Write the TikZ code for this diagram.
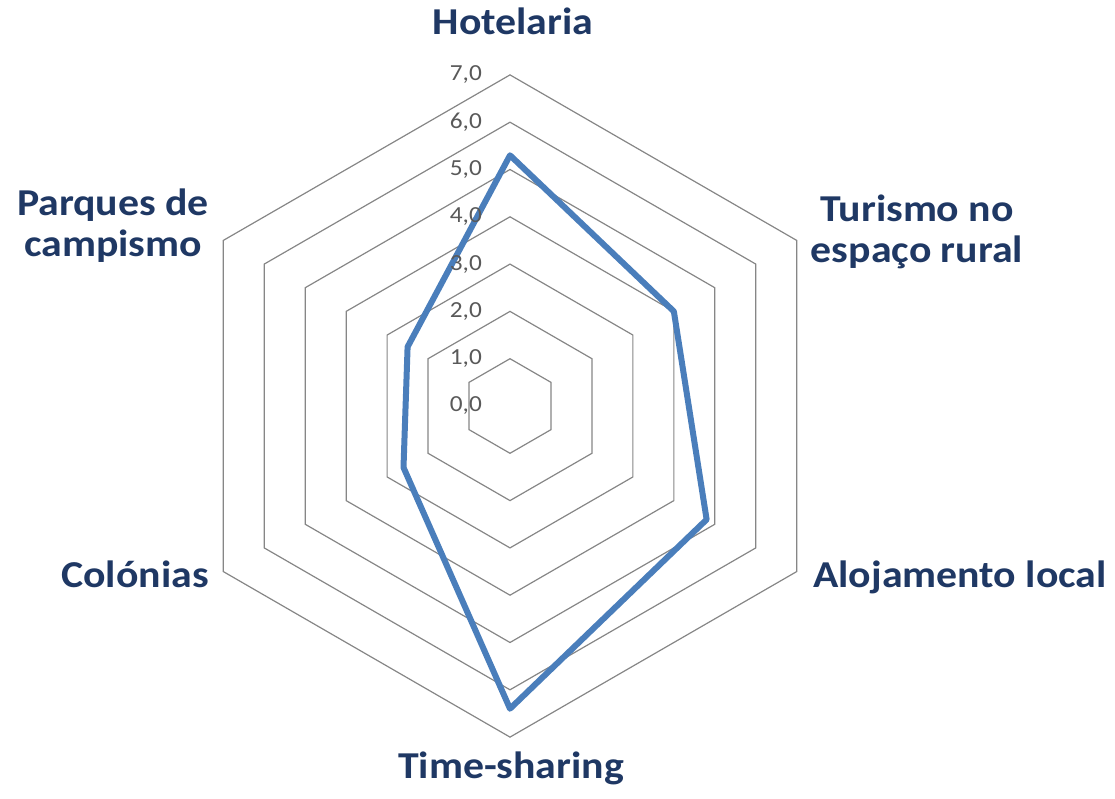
\documentclass[tikz,border=0pt]{standalone}
\usepackage{fontspec}
\setmainfont{Carlito}
\newfontfamily\labfont[FakeStretch=1.1]{Carlito}
\definecolor{labcol}{HTML}{1F3864}
\definecolor{tickcol}{HTML}{595959}
\definecolor{gridcol}{HTML}{868686}
\definecolor{datacol}{HTML}{4A7EBB}
\begin{document}
\begin{tikzpicture}[x=1pt,y=1pt,
  cat/.style={font=\labfont\bfseries\fontsize{38}{41}\selectfont, text=labcol, inner sep=0pt, align=center},
  ticklab/.style={font=\labfont\fontsize{23}{25}\selectfont, text=tickcol, inner sep=0pt, anchor=east},
  gridline/.style={draw=gridcol, line width=1.2pt},
  series/.style={draw=datacol, line width=6pt, line join=round}]
\useasboundingbox (0,0) rectangle (1115,798);
\def\u{47.3}
\begin{scope}[shift={(510,392)}]
  \coordinate (O) at (0,0);
  \foreach \k in {1,...,7}
    \draw[gridline] (90:\k*\u) -- (30:\k*\u) -- (-30:\k*\u) -- (-90:\k*\u) -- (-150:\k*\u) -- (150:\k*\u) -- cycle;
  \coordinate (vHot) at (90:5.3*\u);
  \coordinate (vTur) at (30:4.0*\u);
  \coordinate (vAlo) at (-30:4.8*\u);
  \coordinate (vTim) at (-90:6.4*\u);
  \coordinate (vCol) at (-150:2.6*\u);
  \coordinate (vPar) at (150:2.5*\u);
  \draw[series] (vHot) -- (vTur) -- (vAlo) -- (vTim) -- (vCol) -- (vPar) -- cycle;
  \foreach \k in {0,...,7}
    \node[ticklab] (t\k) at (-28,\k*\u) {\k,0};
\end{scope}
\node[cat, anchor=base] (hot) at (513,763) {Hotelaria};
\node[cat, anchor=base] (tur) at (917,535) {Turismo no\\espaço rural};
\node[cat, anchor=base] (alo) at (960,211) {Alojamento local};
\node[cat, anchor=base] (tim) at (511,20) {Time-sharing};
\node[cat, anchor=base] (col) at (135,211) {Colónias};
\node[cat, anchor=base] (par) at (113,541) {Parques de\\campismo};
\end{tikzpicture}
\end{document}
